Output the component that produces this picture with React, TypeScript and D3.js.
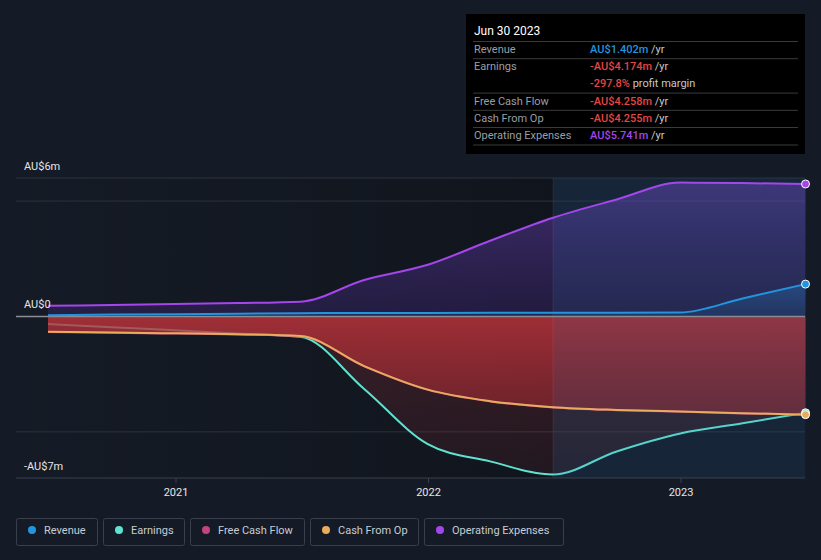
import * as d3 from 'd3';

const W = 821;
const H = 560;

const dates = ["2020-06-30", "2020-09-30", "2020-12-31", "2021-03-31", "2021-06-30", "2021-09-30", "2021-12-31", "2022-03-31", "2022-06-30", "2022-09-30", "2022-12-31", "2023-03-31", "2023-06-30"];
const revenue = [0.05, 0.08, 0.1, 0.12, 0.14, 0.15, 0.15, 0.16, 0.16, 0.16, 0.17, 0.78, 1.402];
const earnings = [-0.33, -0.47, -0.6, -0.74, -0.88, -3.14, -5.53, -6.28, -6.85, -5.85, -5.07, -4.63, -4.174];
const freeCashFlow = [-0.67, -0.71, -0.74, -0.78, -0.86, -2.16, -3.18, -3.68, -3.94, -4.06, -4.13, -4.2, -4.258];
const cashFromOp = [-0.66, -0.7, -0.73, -0.77, -0.85, -2.15, -3.17, -3.67, -3.93, -4.05, -4.12, -4.19, -4.255];
const opex = [0.46, 0.5, 0.54, 0.58, 0.64, 1.58, 2.24, 3.28, 4.28, 5.07, 5.8, 5.78, 5.741];

const yTickVals = [6, 0, -7];
const yTickLabels = ["AU$6m", "AU$0", "-AU$7m"];
const gridVals = [5, -5];
const xTickYears = ["2021-01-01", "2022-01-01", "2023-01-01"];
const highlightStart = "2022-06-30";

const legendItems = [
  { name: "Revenue", color: "#2394df" },
  { name: "Earnings", color: "#5fe3d0" },
  { name: "Free Cash Flow", color: "#c2457c" },
  { name: "Cash From Op", color: "#e9ab5c" },
  { name: "Operating Expenses", color: "#a346eb" },
];

const tipRows = [
  { label: "Revenue", value: "AU$1.402m", unit: " /yr", color: "#2394df" },
  { label: "Earnings", value: "-AU$4.174m", unit: " /yr", color: "#e64545" },
  { label: "", value: "-297.8%", unit: " profit margin", color: "#e64545" },
  { label: "Free Cash Flow", value: "-AU$4.258m", unit: " /yr", color: "#e64545" },
  { label: "Cash From Op", value: "-AU$4.255m", unit: " /yr", color: "#e64545" },
  { label: "Operating Expenses", value: "AU$5.741m", unit: " /yr", color: "#a346eb" },
];

const parse = d3.timeParse("%Y-%m-%d");

export default function App() {
  const t = dates.map(d => parse(d)!);
  const x = d3.scaleTime()
    .domain([parse("2021-01-01")!, parse("2023-01-01")!])
    .range([176, 681]);
  const y = d3.scaleLinear().domain([-7, 6]).range([478, 178]);
  const left = 16, right = 805;
  const hx = x(parse(highlightStart)!);

  const line = (vals: number[]) =>
    d3.line<number>().x((_, i) => x(t[i])).y(v => y(v)).curve(d3.curveMonotoneX)(vals)!;
  const area = (vals: number[]) =>
    d3.area<number>().x((_, i) => x(t[i])).y0(y(0)).y1(v => y(v)).curve(d3.curveMonotoneX)(vals)!;

  const last = t.length - 1;
  const font = "Roboto, 'Noto Sans', sans-serif";

  return (
    <svg width={W} height={H} style={{ position: 'absolute', left: 0, top: 0, background: '#151b26' }} fontFamily={font}>
      <defs>
        <linearGradient id="opexG" x1="0" y1="0" x2="0" y2="1">
          <stop offset="0%" stopColor="#7a4ad0" stopOpacity={0.45} />
          <stop offset="100%" stopColor="#4a2a8a" stopOpacity={0.3} />
        </linearGradient>
        <linearGradient id="fcfG" x1="0" y1="0" x2="0" y2="1">
          <stop offset="0%" stopColor="#b8323a" stopOpacity={0.8} />
          <stop offset="100%" stopColor="#a02a32" stopOpacity={0.55} />
        </linearGradient>
        <linearGradient id="earnG" x1="0" y1="0" x2="0" y2="1">
          <stop offset="0%" stopColor="#b8323a" stopOpacity={0.25} />
          <stop offset="100%" stopColor="#b8323a" stopOpacity={0.1} />
        </linearGradient>
        <linearGradient id="revG" x1="0" y1="0" x2="0" y2="1">
          <stop offset="0%" stopColor="#2394df" stopOpacity={0.3} />
          <stop offset="100%" stopColor="#2394df" stopOpacity={0.1} />
        </linearGradient>
        <linearGradient id="shadeG" x1="0" y1="0" x2="1" y2="0">
          <stop offset="0%" stopColor="#0a0d12" stopOpacity={0} />
          <stop offset="100%" stopColor="#0a0d12" stopOpacity={0.45} />
        </linearGradient>
      </defs>

      <rect x={left} y={178} width={hx - left} height={300} fill="url(#shadeG)" />

      {gridVals.concat([6]).map(v => (
        <line key={v} x1={left} x2={right} y1={y(v)} y2={y(v)} stroke="#2c323d" strokeWidth={1} />
      ))}
      <line x1={left} x2={right} y1={478} y2={478} stroke="#3a404b" strokeWidth={1} />
      {xTickYears.map(d => (
        <line key={d} x1={x(parse(d)!)} x2={x(parse(d)!)} y1={478} y2={483} stroke="#3a404b" />
      ))}

      <path d={area(earnings)} fill="url(#earnG)" />
      <path d={line(earnings)} fill="none" stroke="#5fe3d0" strokeWidth={2} />
      <path d={area(freeCashFlow)} fill="url(#fcfG)" />
      <path d={line(freeCashFlow)} fill="none" stroke="#c2457c" strokeWidth={2} />
      <path d={area(opex)} fill="url(#opexG)" />
      <path d={area(revenue)} fill="url(#revG)" />

      <rect x={hx} y={178} width={right - hx} height={300} fill="#1e6aa8" opacity={0.13} />
      <line x1={hx} x2={hx} y1={178} y2={478} stroke="#ffffff" strokeOpacity={0.07} />

      <line x1={left} x2={right} y1={y(0)} y2={y(0)} stroke="#8a8d93" strokeWidth={1.5} />

      <path d={line(cashFromOp)} fill="none" stroke="#e9ab5c" strokeWidth={2} />
      <path d={line(revenue)} fill="none" stroke="#2394df" strokeWidth={2} />
      <path d={line(opex)} fill="none" stroke="#a346eb" strokeWidth={2} />

      <circle cx={x(t[last])} cy={y(earnings[last])} r={4} fill="#5fe3d0" stroke="#fff" strokeWidth={1} />
      <circle cx={x(t[last])} cy={y(cashFromOp[last])} r={4} fill="#e9ab5c" stroke="#fff" strokeWidth={1} />
      <circle cx={x(t[last])} cy={y(revenue[last])} r={4} fill="#2394df" stroke="#fff" strokeWidth={1} />
      <circle cx={x(t[last])} cy={y(opex[last])} r={4} fill="#a346eb" stroke="#fff" strokeWidth={1} />

      {yTickVals.map((v, i) => (
        <text key={v} x={24} y={y(v) - 8} fontSize={11} fill="#e6e6e6">{yTickLabels[i]}</text>
      ))}
      {xTickYears.map(d => (
        <text key={d} x={x(parse(d)!)} y={496} fontSize={11} fill="#e6e6e6" textAnchor="middle">{d.slice(0, 4)}</text>
      ))}

      <rect x={466} y={14} width={339} height={140} fill="#000" />
      <text x={474} y={35} fontSize={12} fill="#fff">Jun 30 2023</text>
      {tipRows.map((r, i) => {
        const ty = 53 + i * 17.2;
        return (
          <g key={i}>
            {r.label && <line x1={473} x2={798} y1={ty - 11.5} y2={ty - 11.5} stroke="#3a3a3a" />}
            <text x={474} y={ty} fontSize={11} fill="#9a9ea4">{r.label}</text>
            <text x={590} y={ty} fontSize={11} fontWeight={500}>
              <tspan fill={r.color}>{r.value}</tspan>
              <tspan fill="#c8c8c8" fontWeight={400}>{r.unit}</tspan>
            </text>
          </g>
        );
      })}
      <line x1={473} x2={798} y1={145} y2={145} stroke="#3a3a3a" />

      {(() => {
        const boxes = [[16, 81], [103, 81], [190, 114], [310, 108], [424, 139]];
        return legendItems.map((it, i) => {
          const [bx, bw] = boxes[i];
          return (
            <g key={it.name}>
              <rect x={bx + 0.5} y={518.5} width={bw} height={27} fill="none" stroke="#3a404b" rx={2} />
              <circle cx={bx + 16} cy={530} r={4} fill={it.color} />
              <text x={bx + 28} y={534} fontSize={11} fill="#c8ccd2">{it.name}</text>
            </g>
          );
        });
      })()}
    </svg>
  );
}
